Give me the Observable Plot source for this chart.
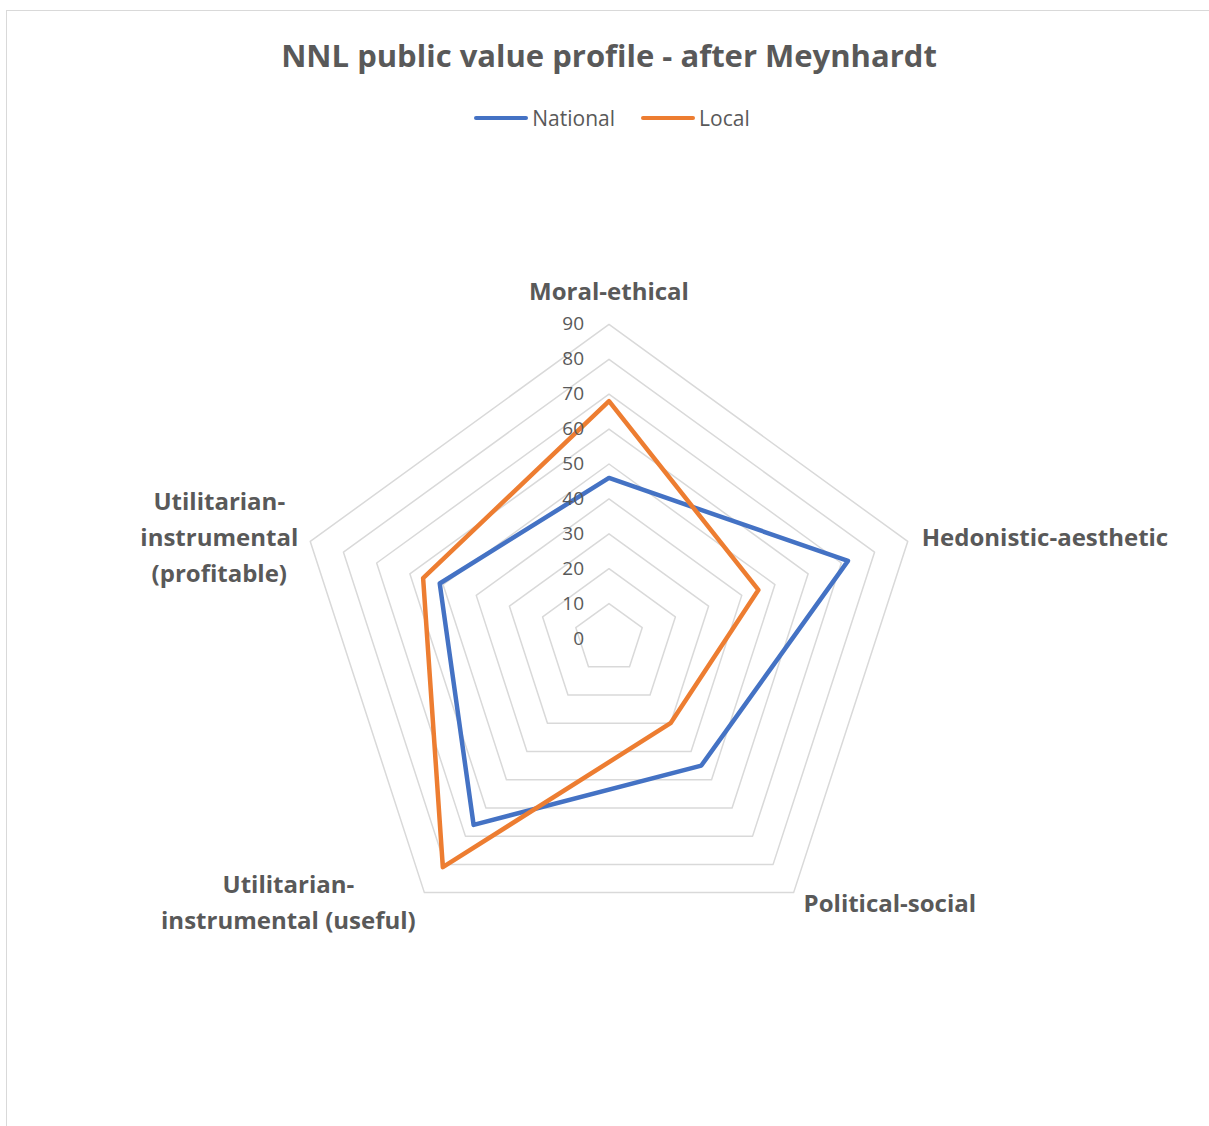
<!DOCTYPE html>
<html>
<head>
<meta charset="utf-8">
<script src="https://cdn.jsdelivr.net/npm/d3@7"></script>
<script src="https://cdn.jsdelivr.net/npm/@observablehq/plot@0.6"></script>
<style>
  html, body { margin: 0; padding: 0; background: #fff; }
  body { width: 1209px; height: 1126px; overflow: hidden; position: relative; font-family: "Open Sans", "Noto Sans", sans-serif; color: #595959; }
  #frame { position: absolute; left: 6px; top: 10px; width: 1400px; height: 1400px; border: 1.5px solid #d9d9d9; box-sizing: border-box; }
  #title { position: absolute; left: 0; width: 1218px; top: 36px; text-align: center; font-weight: bold; font-size: 31px; line-height: 38px; color: #595959; }
  #legend { position: absolute; left: 0; width: 1224px; top: 105px; display: flex; justify-content: center; gap: 26px; font-size: 21px; line-height: 26px; color: #595959; }
  .item { display: flex; align-items: center; gap: 4px; }
  .swatch { width: 54px; height: 4px; border-radius: 2px; }
  #chart { position: absolute; left: 0; top: 150px; }
</style>
</head>
<body>
<div id="frame"></div>
<div id="title">NNL public value profile - after Meynhardt</div>
<div id="legend"></div>
<div id="chart"></div>
<script>
// ---- data ----
const categories = ["Moral-ethical", "Hedonistic-aesthetic", "Political-social", "Utilitarian-instrumental (useful)", "Utilitarian-instrumental (profitable)"];
const axisLabels = ["Moral-ethical", "Hedonistic-aesthetic", "Political-social", "Utilitarian-\ninstrumental (useful)", "Utilitarian-\ninstrumental\n(profitable)"];
const seriesNames = ["National", "Local"];
const nationalValues = [46, 72, 45, 66, 51];
const localValues = [68, 45, 30, 81, 56];
const tickValues = [0, 10, 20, 30, 40, 50, 60, 70, 80, 90];
const seriesColors = ["#4472c4", "#ed7d31"];

// ---- geometry helpers (polar -> cartesian in data units) ----
const n = categories.length;
const ang = i => (i * 2 * Math.PI) / n;
const px = (v, i) => v * Math.sin(ang(i));
const py = (v, i) => v * Math.cos(ang(i));

const gridRows = [];
for (const t of tickValues.slice(1)) {
  categories.forEach((c, i) => gridRows.push({level: t, cat: c, x: px(t, i), y: py(t, i)}));
}
const seriesData = [nationalValues, localValues].map((vals, s) =>
  vals.map((v, i) => ({series: seriesNames[s], cat: categories[i], value: v, x: px(v, i), y: py(v, i)}))
);
const tickRows = tickValues.map(t => ({t, x: 0, y: t}));
const labelRows = axisLabels.map((l, i) => ({label: l, x: px(90, i), y: py(90, i)}));

// ---- legend ----
const legend = document.getElementById("legend");
seriesNames.forEach((s, i) => {
  const it = document.createElement("div");
  it.className = "item";
  it.innerHTML = `<span class="swatch" style="background:${seriesColors[i]}"></span><span>${s}</span>`;
  legend.appendChild(it);
});

// ---- chart ----
const K = 3.49; // px per unit
const cx = 608.5, cy = 488;
const font = "Open Sans";
const labelStyle = {fontWeight: "bold", fontSize: 24, fill: "#595959", fontFamily: font, lineHeight: 1.5};

const plot = Plot.plot({
  width: 1209,
  height: 900,
  style: {background: "transparent", overflow: "visible"},
  x: {domain: [-100, 100], range: [cx - 100 * K, cx + 100 * K], axis: null},
  y: {domain: [-100, 100], range: [cy + 100 * K, cy - 100 * K], axis: null},
  marks: [
    Plot.line(gridRows, {x: "x", y: "y", z: "level", curve: "linear-closed", stroke: "#d9d9d9", strokeWidth: 1.5}),
    ...seriesData.map((rows, s) =>
      Plot.line(rows, {x: "x", y: "y", curve: "linear-closed", stroke: seriesColors[s], strokeWidth: 4.5, strokeLinejoin: "round"})
    ),
    Plot.text(tickRows, {x: "x", y: "y", text: d => String(d.t), textAnchor: "end", dx: -25, fontSize: 19, fill: "#595959", fontFamily: font}),
    Plot.text(labelRows.filter((d, i) => i === 0), {x: "x", y: "y", text: "label", textAnchor: "middle", dy: -36, ...labelStyle}),
    Plot.text(labelRows.filter((d, i) => i === 1), {x: "x", y: "y", text: "label", textAnchor: "start", dx: 14, dy: -7, ...labelStyle}),
    Plot.text(labelRows.filter((d, i) => i === 2), {x: "x", y: "y", text: "label", textAnchor: "start", dx: 10, dy: 8, ...labelStyle}),
    Plot.text(labelRows.filter((d, i) => i === 3), {x: "x", y: "y", text: "label", textAnchor: "middle", dx: -136, dy: 7, ...labelStyle}),
    Plot.text(labelRows.filter((d, i) => i === 4), {x: "x", y: "y", text: "label", textAnchor: "middle", dx: -91, dy: -7, ...labelStyle})
  ]
});
document.getElementById("chart").appendChild(plot);
</script>
</body>
</html>
